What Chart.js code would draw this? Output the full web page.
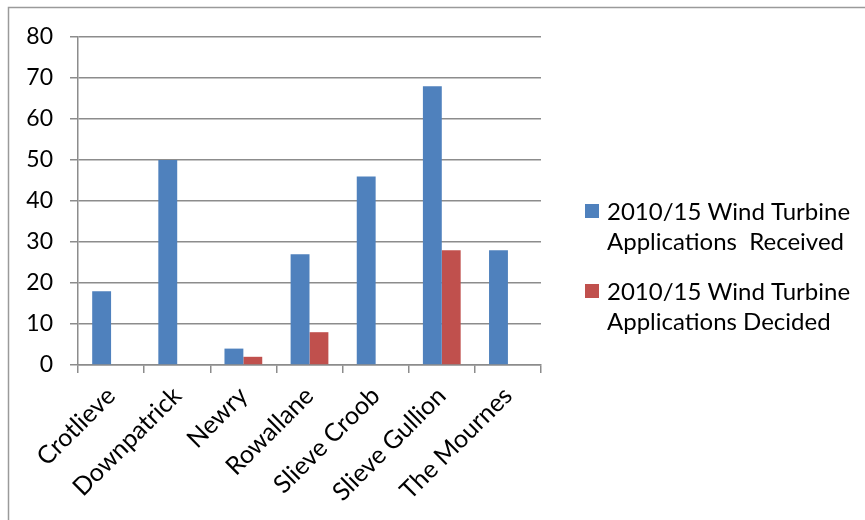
<!DOCTYPE html>
<html>
<head>
<meta charset="utf-8">
<script src="https://cdn.jsdelivr.net/npm/chart.js@4.4.0/dist/chart.umd.min.js"></script>
<style>
  html, body { margin: 0; padding: 0; background: #fff; }
  #wrap { width: 865px; height: 520px; }
</style>
</head>
<body>
<div id="wrap"><canvas id="c" width="865" height="520"></canvas></div>
<script>
const categories = ['Crotlieve', 'Downpatrick', 'Newry', 'Rowallane', 'Slieve Croob', 'Slieve Gullion', 'The Mournes'];
const received = [18, 50, 4, 27, 46, 68, 28];
const decided = [0, 0, 2, 8, 0, 28, 0];
const receivedLegend = ['2010/15 Wind Turbine', 'Applications  Received'];
const decidedLegend = ['2010/15 Wind Turbine', 'Applications Decided'];
const yTicks = [0, 10, 20, 30, 40, 50, 60, 70, 80];

const FONT = 'Lato';
const GRID = '#8c8c8c';

Chart.defaults.font.family = FONT;
Chart.defaults.font.size = 23;
Chart.defaults.color = '#000';

const framePlugin = {
  id: 'frame',
  beforeDraw(chart) {
    const ctx = chart.ctx;
    ctx.save();
    ctx.fillStyle = '#fff';
    ctx.fillRect(0, 0, chart.width, chart.height);
    ctx.strokeStyle = '#9a9a9a';
    ctx.lineWidth = 1.5;
    ctx.strokeRect(8.5, 7.5, 1200, 1200);
    ctx.restore();
  }
};

const legendPlugin = {
  id: 'sideLegend',
  afterDraw(chart, args, opts) {
    const ctx = chart.ctx;
    ctx.save();
    ctx.font = opts.fontSize + 'px ' + FONT;
    ctx.textBaseline = 'middle';
    ctx.textAlign = 'left';
    chart.data.datasets.forEach((ds, i) => {
      const top = opts.itemTops[i];
      ctx.fillStyle = ds.backgroundColor;
      ctx.fillRect(opts.boxX, top + opts.boxOffset, opts.boxSize, opts.boxSize);
      ctx.fillStyle = '#000';
      ds.legendLines.forEach((line, j) => {
        ctx.fillText(line, opts.textX, top + opts.firstLine + j * opts.lineHeight);
      });
    });
    ctx.restore();
  }
};

new Chart(document.getElementById('c'), {
  type: 'bar',
  data: {
    labels: categories,
    datasets: [
      { label: receivedLegend.join(' '), legendLines: receivedLegend, data: received, backgroundColor: '#4F81BD', borderWidth: 0 },
      { label: decidedLegend.join(' '), legendLines: decidedLegend, data: decided, backgroundColor: '#C0504D', borderWidth: 0 }
    ]
  },
  options: {
    responsive: false,
    animation: false,
    devicePixelRatio: 1,
    categoryPercentage: 0.571,
    barPercentage: 1,
    layout: { padding: { top: 37, right: 324, bottom: 0, left: 0 } },
    plugins: {
      legend: { display: false },
      tooltip: { enabled: false },
      sideLegend: {
        fontSize: 24, boxX: 585, boxSize: 14, textX: 607,
        itemTops: [196, 276], boxOffset: 8, firstLine: 16, lineHeight: 30
      }
    },
    scales: {
      x: {
        grid: { drawOnChartArea: false, drawTicks: true, tickLength: 8, color: GRID, lineWidth: 1.5 },
        border: { color: GRID, width: 1.5 },
        ticks: { minRotation: 45, maxRotation: 45, padding: 8, autoSkip: false, font: { size: 25 } },
        afterFit(scale) { scale.height = 155; }
      },
      y: {
        min: 0, max: 80,
        afterBuildTicks(scale) { scale.ticks = yTicks.map(v => ({ value: v })); },
        grid: { color: GRID, lineWidth: 1.5, tickLength: 8 },
        border: { color: GRID, width: 1.5 },
        ticks: { padding: 17, stepSize: 10, font: { size: 23 } },
        afterFit(scale) { scale.width = 78; }
      }
    }
  },
  plugins: [framePlugin, legendPlugin]
});
</script>
</body>
</html>
